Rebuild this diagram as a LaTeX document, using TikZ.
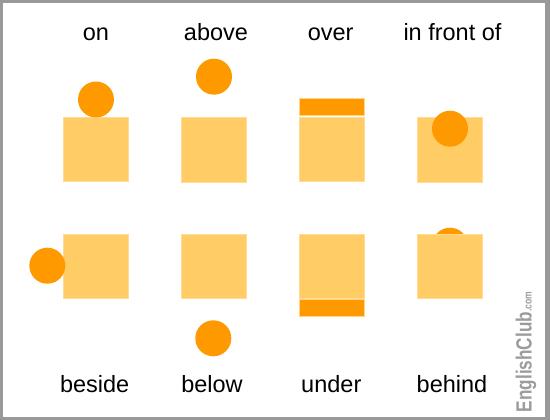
\documentclass[tikz,border=0pt]{standalone}
\usepackage{fontspec}
\setmainfont{Liberation Sans}
\definecolor{sq}{HTML}{FFCC66}
\definecolor{ball}{HTML}{FF9900}
\definecolor{frame}{HTML}{999999}
\definecolor{mark}{HTML}{9C9C9C}
\tikzset{
  sqbox/.style={rectangle, fill=sq, draw=sq!70!white, line width=0.6pt, minimum width=65pt, minimum height=64.5pt, inner sep=0pt},
  ballnode/.style={circle, fill=ball, minimum size=36pt, inner sep=0pt},
  barbox/.style={rectangle, fill=ball, draw=sq!80!white, line width=0.8pt, minimum width=65pt, minimum height=17pt, inner sep=0pt},
  lbl/.style={anchor=base, inner sep=0pt, font=\fontsize{23.5}{28}\selectfont}
}
\begin{document}
\begin{tikzpicture}[x=1pt, y=-1pt]
\useasboundingbox (0,0) rectangle (550,420);
\fill[frame] (0,0) rectangle (550,420);
\fill[white] (3,3) rectangle (545,416.5);

% top labels
\node[lbl] (t1) at (96,41) {on};
\node[lbl] (t2) at (216,41) {above};
\node[lbl] (t3) at (330.7,41) {over};
\node[lbl] (t4) at (452.5,41) {in front of};

% bottom labels
\node[lbl] (b1) at (94.7,392.5) {beside};
\node[lbl] (b2) at (212,392.5) {below};
\node[lbl] (b3) at (331.3,392.5) {under};
\node[lbl] (b4) at (452,392.5) {behind};

% row 1
\node[sqbox] (s1) at (95.5,149.5) {};
\node[ballnode] (c1) at (96,99.5) {};
\node[sqbox] (s2) at (213.5,149.8) {};
\node[ballnode] (c2) at (214,76.7) {};
\node[sqbox] (s3) at (332,149.2) {};
\node[barbox] (r3) at (332,106.8) {};
\node[sqbox] (s4) at (449.7,150) {};
\node[ballnode] (c4) at (450,128.7) {};

% row 2
\node[sqbox] (s5) at (95.5,266.2) {};
\node[ballnode] (c5) at (47.3,265.7) {};
\node[sqbox] (s6) at (213.5,266.2) {};
\node[ballnode] (c6) at (213.3,338.3) {};
\node[sqbox] (s7) at (332,266.2) {};
\node[barbox] (r7) at (332,308) {};
\node[ballnode] (c8) at (450,245.7) {};
\node[sqbox] (s8) at (449.7,266.2) {};

% watermark
\node[rotate=90, anchor=center, inner sep=0pt, text=mark] (wm) at (526,352)
  {\scalebox{0.78}[1]{\fontsize{22}{22}\selectfont\bfseries EnglishClub\fontsize{11}{11}\selectfont.com}};
\end{tikzpicture}
\end{document}
